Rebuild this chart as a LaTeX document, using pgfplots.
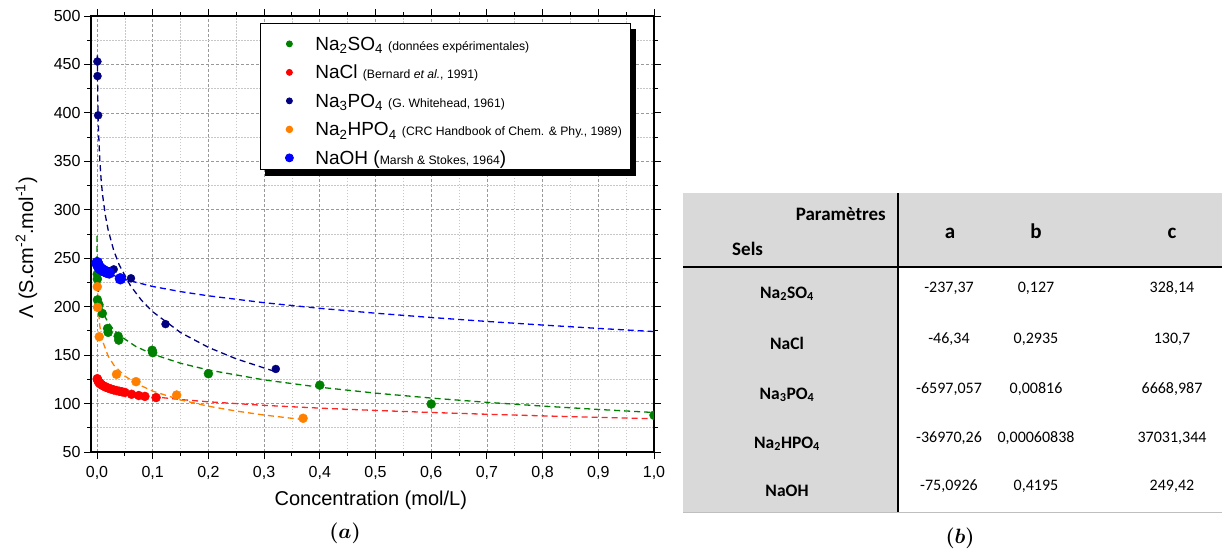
\documentclass[border=0pt]{standalone}
\usepackage{fontspec}
\usepackage{bm}
\usepackage{pgfplots}
\pgfplotsset{compat=1.18}
\newfontfamily\arial{Liberation Sans}
\newfontfamily\calibri{Carlito}
\definecolor{cgreen}{RGB}{0,128,0}
\definecolor{cred}{RGB}{255,0,0}
\definecolor{cnavy}{RGB}{0,0,128}
\definecolor{corange}{RGB}{255,128,0}
\definecolor{cblue}{RGB}{0,0,255}
\definecolor{tgrey}{RGB}{217,217,217}
\newcommand{\fs}[1]{\fontsize{#1}{#1}\selectfont}
\newcommand{\val}[3]{\node[anchor=base, font=\calibri\fs{16}, inner sep=0pt] at (#1pt,-#2pt) {#3};}
\newcommand{\lab}[2]{\node[anchor=base, font=\calibri\bfseries\fs{17.5}, inner sep=0pt] at (787pt,-#1pt) {#2};}
\begin{document}
\begin{tikzpicture}
\path[use as bounding box] (0pt,0pt) rectangle (1222pt,-551pt);
\begin{axis}[
  at={(91pt,-452pt)}, anchor=south west,
  scale only axis, width=563pt, height=436pt,
  xmin=-0.0108, xmax=1.0, ymin=50, ymax=500,
  xtick={0,0.1,0.2,0.3,0.4,0.5,0.6,0.7,0.8,0.9,1.0},
  ytick={50,100,150,200,250,300,350,400,450,500},
  minor x tick num=1, minor y tick num=1,
  tick align=outside, xtick pos=both, ytick pos=both,
  xticklabel pos=bottom, yticklabel pos=left,
  major tick length=7pt, minor tick length=4pt,
  every tick/.style={black, line width=1pt},
  axis line style={line width=1.4pt},
  grid=both,
  major grid style={dash pattern=on 3pt off 2pt, black!40, line width=0.7pt},
  minor grid style={dash pattern=on 1.5pt off 1.5pt, black!22, line width=0.6pt},
  xticklabel={\pgfmathprintnumber[fixed,fixed zerofill,precision=1,use comma,assume math mode=true]{\tick}},
  yticklabel={\pgfmathprintnumber[fixed,precision=0,assume math mode=true]{\tick}},
  ticklabel style={font=\arial\fs{16}},
  xticklabel style={yshift=-4pt},
  label style={font=\arial\fs{20}},
  xlabel={Concentration (mol/L)},
  ylabel={Λ (S.cm\textsuperscript{-2}.mol\textsuperscript{-1})},
  xlabel style={at={(axis description cs:0.497,-0.1216)}, anchor=base},
  ylabel style={at={(axis description cs:-0.103,0.468)}, anchor=base},
  clip marker paths=true,
  legend style={at={(axis description cs:0.3002,0.984)}, anchor=north west,
    name=leg,
    draw=black, line width=0.8pt, fill=white,
    inner xsep=9pt, inner ysep=1.75pt, column sep=22pt,
    font=\arial,
    cells={anchor=base west},
    nodes={inner sep=0pt, text height=25.25pt, text depth=3.25pt}},
  legend image code/.code={\path[draw=none, fill=none] (-20pt,0pt) rectangle (4pt,12pt); \draw[#1, only marks] plot coordinates {(0pt,6.5pt)};},
  fitline/.style={dash pattern=on 6pt off 4pt, line width=1.3pt},
  dots/.style={only marks, mark=*, forget plot},
]
% fit curves
\addplot[fitline, cgreen, forget plot] coordinates {(0.00001,273.13) (0.00003,264.90) (0.0001,254.45) (0.0002,247.67) (0.0005,237.73) (0.001,229.41) (0.002,220.33) (0.003,214.64) (0.005,207.02) (0.007,201.74) (0.01,195.88) (0.015,188.89) (0.02,183.70) (0.03,176.08) (0.04,170.41) (0.07,158.80) (0.1,150.95) (0.15,141.59) (0.2,134.65) (0.3,124.43) (0.4,116.84) (0.5,110.77) (0.6,105.68) (0.7,101.28) (0.8,97.40) (0.9,93.92) (1.0,90.77)};
\addplot[fitline, cred!85, forget plot] coordinates {(0.0005,125.72) (0.001,124.60) (0.002,123.22) (0.005,120.91) (0.01,118.71) (0.02,116.00) (0.05,111.46) (0.1,107.12) (0.15,104.15) (0.2,101.81) (0.3,98.15) (0.4,95.29) (0.5,92.89) (0.6,90.81) (0.7,88.97) (0.8,87.30) (0.9,85.77) (1.0,84.36)};
\addplot[fitline, cnavy, forget plot] coordinates {(0.0006,459.44) (0.0008,444.85) (0.001,433.50) (0.0015,412.84) (0.002,398.14) (0.003,377.35) (0.005,351.07) (0.0075,330.14) (0.01,315.24) (0.015,294.19) (0.02,279.20) (0.03,258.03) (0.04,242.95) (0.06,221.65) (0.08,206.50) (0.1,194.73) (0.15,173.27) (0.2,158.00) (0.25,146.13) (0.32,132.99)};
\addplot[fitline, corange, forget plot] coordinates {(0.0007,224.11) (0.001,216.12) (0.002,200.60) (0.005,180.05) (0.01,164.52) (0.02,148.97) (0.03,139.86) (0.05,128.39) (0.07,120.84) (0.1,112.83) (0.15,103.73) (0.2,97.26) (0.25,92.25) (0.3,88.15) (0.37,83.44)};
\addplot[fitline, cblue, forget plot] coordinates {(0.0005,246.32) (0.001,245.28) (0.002,243.88) (0.005,241.28) (0.01,238.54) (0.015,236.52) (0.02,234.87) (0.03,232.17) (0.04,229.96) (0.05,228.05) (0.1,220.84) (0.15,215.54) (0.2,211.19) (0.3,204.10) (0.4,198.29) (0.5,193.27) (0.6,188.81) (0.7,184.76) (0.8,181.04) (0.9,177.57) (1.0,174.33)};
% data
\addplot[dots, cgreen, mark size=4.5pt] coordinates {(0.0004,233.5) (0.0006,228.5) (0.0008,207) (0.0035,202) (0.0095,193) (0.019,177.5) (0.02,173.5) (0.038,169.5) (0.039,165.5) (0.099,155) (0.1,152.5) (0.2,130.8) (0.4,119) (0.6,99.5) (1.0,88)};
\addplot[dots, cred, mark size=4.5pt] coordinates {(0.0005,125.7) (0.001,124.6) (0.002,123.2) (0.003,122.3) (0.004,121.5) (0.005,120.9) (0.006,120.4) (0.008,119.5) (0.01,118.7) (0.013,117.8) (0.016,116.9) (0.02,116.0) (0.025,115.0) (0.03,114.1) (0.035,113.4) (0.04,112.7) (0.045,112.1) (0.05,111.5) (0.062,109.6) (0.075,108.3) (0.086,107.4) (0.106,106.2)};
\addplot[dots, cnavy, mark size=4pt] coordinates {(0.0007,453) (0.0009,438) (0.002,397.5) (0.03,238.5) (0.061,229.3) (0.123,182) (0.321,135.7)};
\addplot[dots, corange, mark size=4.5pt] coordinates {(0.0005,220.6) (0.001,199.3) (0.004,169) (0.035,130.2) (0.070,122.6) (0.143,108.8) (0.370,84.8)};
\addplot[dots, cblue, mark size=5.5pt] coordinates {(0.0003,245.5) (0.0006,244.5) (0.001,243.8) (0.002,242.5) (0.003,241.5) (0.004,240.5) (0.006,239.5) (0.008,238.5) (0.010,237.8) (0.013,236.8) (0.016,236) (0.019,235.3) (0.022,234.8) (0.042,228.8)};
% legend
\addlegendimage{mark=*, cgreen, mark size=3pt}
\addlegendentry{\fs{19}Na\textsubscript{2}SO\textsubscript{4} {\fs{12.2}(données expérimentales)}}
\addlegendimage{mark=*, cred, mark size=3pt}
\addlegendentry{\fs{19}NaCl {\fs{12.2}(Bernard {\itshape et al.}, 1991)}}
\addlegendimage{mark=*, cnavy, mark size=3pt}
\addlegendentry{\fs{19}Na\textsubscript{3}PO\textsubscript{4} {\fs{12.2}(G. Whitehead, 1961)}}
\addlegendimage{mark=*, corange, mark size=3.3pt}
\addlegendentry{\fs{19}Na\textsubscript{2}HPO\textsubscript{4} {\fs{12.2}(CRC Handbook of Chem. \& Phy., 1989)}}
\addlegendimage{mark=*, cblue, mark size=4pt}
\addlegendentry{\fs{19}NaOH ({\fs{12.2}Marsh \& Stokes, 1964})}
\end{axis}
% legend shadow (two strips outside the legend box)
\fill[black] ([xshift=5pt]leg.south west) rectangle ([xshift=5pt,yshift=-6pt]leg.south east);
\fill[black] ([yshift=-6pt]leg.north east) rectangle ([xshift=5pt,yshift=-6pt]leg.south east);
% caption (a)
\node[anchor=base, font=\fs{22}] at (345pt,-538pt) {$\bm{(a)}$};
% table (b)
\fill[tgrey] (683pt,-193pt) rectangle (1222pt,-267pt);
\fill[tgrey] (683pt,-267pt) rectangle (898pt,-512pt);
\draw[black!25, line width=0.8pt] (683pt,-512pt) -- (1222pt,-512pt);
\draw[black, line width=1.2pt] (683pt,-267pt) -- (1222pt,-267pt);
\draw[black, line width=1.2pt] (898pt,-193pt) -- (898pt,-512pt);
\begin{scope}[every node/.style={inner sep=0pt}]
\node[anchor=base east, font=\calibri\bfseries\fs{19}] at (886pt,-220pt) {Paramètres};
\node[anchor=base west, font=\calibri\bfseries\fs{19}] at (732pt,-255pt) {Sels};
\node[anchor=base, font=\calibri\bfseries\fs{21}] at (950pt,-238pt) {a};
\node[anchor=base, font=\calibri\bfseries\fs{21}] at (1036pt,-238pt) {b};
\node[anchor=base, font=\calibri\bfseries\fs{21}] at (1172pt,-238pt) {c};
\end{scope}
\lab{298}{Na\textsubscript{2}SO\textsubscript{4}}
\lab{349}{NaCl}
\lab{399}{Na\textsubscript{3}PO\textsubscript{4}}
\lab{448}{Na\textsubscript{2}HPO\textsubscript{4}}
\lab{496}{NaOH}
\val{949}{292}{-237,37}\val{1036}{292}{0,127}\val{1172}{292}{328,14}
\val{949}{343}{-46,34}\val{1036}{343}{0,2935}\val{1172}{343}{130,7}
\val{949}{393}{-6597,057}\val{1036}{393}{0,00816}\val{1172}{393}{6668,987}
\val{949}{442}{-36970,26}\val{1036}{442}{0,00060838}\val{1172}{442}{37031,344}
\val{949}{490}{-75,0926}\val{1036}{490}{0,4195}\val{1172}{490}{249,42}
\node[anchor=base, font=\fs{22}] at (960pt,-543pt) {$\bm{(b)}$};
\end{tikzpicture}
\end{document}
